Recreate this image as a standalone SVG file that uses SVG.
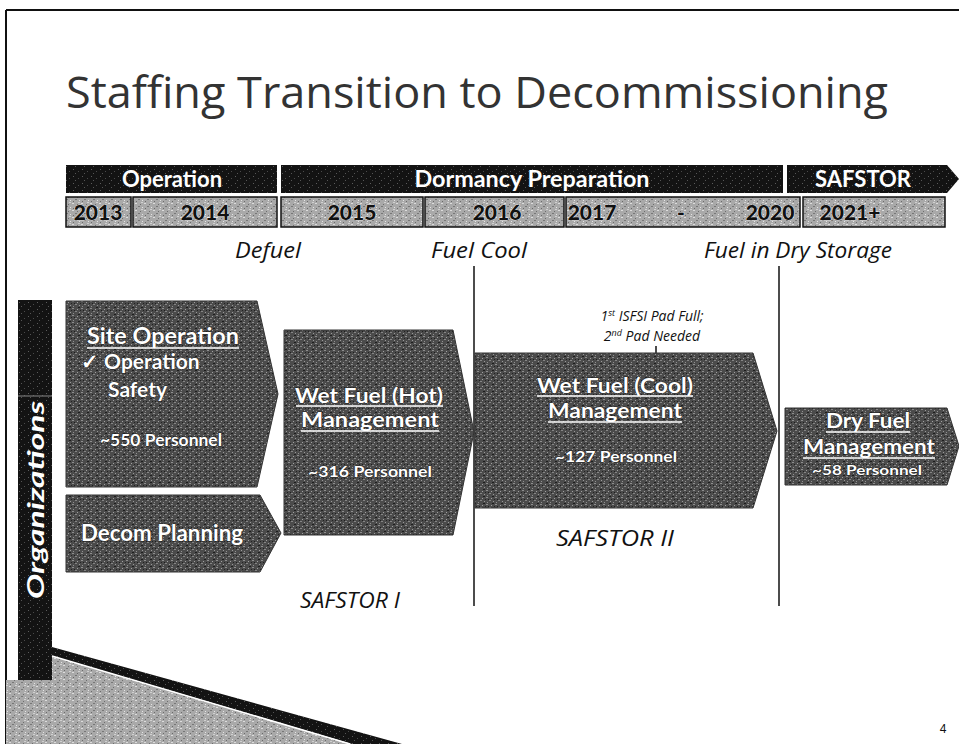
<svg xmlns="http://www.w3.org/2000/svg" width="959" height="744" viewBox="0 0 959 744">
<defs>
<pattern id="grain" width="9" height="7" patternUnits="userSpaceOnUse">
<rect width="9" height="7" fill="#4b4b4b"/>
<rect x="0" y="0" width="2" height="1" fill="#8e8e8e"/>
<rect x="5" y="1" width="1" height="1" fill="#a0a0a0"/>
<rect x="3" y="3" width="2" height="1" fill="#858585"/>
<rect x="7" y="4" width="1" height="1" fill="#999"/>
<rect x="1" y="5" width="1" height="1" fill="#909090"/>
<rect x="6" y="6" width="2" height="1" fill="#1e1e1e"/>
<rect x="2" y="2" width="1" height="1" fill="#1e1e1e"/>
<rect x="8" y="2" width="1" height="1" fill="#222"/>
</pattern>
<pattern id="grainLight" width="9" height="7" patternUnits="userSpaceOnUse">
<rect width="9" height="7" fill="#a9a9a9"/>
<rect x="0" y="0" width="2" height="1" fill="#dcdcdc"/>
<rect x="5" y="1" width="1" height="1" fill="#6e6e6e"/>
<rect x="3" y="3" width="2" height="1" fill="#777"/>
<rect x="7" y="4" width="1" height="1" fill="#e4e4e4"/>
<rect x="1" y="5" width="1" height="1" fill="#6a6a6a"/>
<rect x="6" y="6" width="2" height="1" fill="#d0d0d0"/>
</pattern>
<pattern id="grainDark" width="9" height="7" patternUnits="userSpaceOnUse">
<rect width="9" height="7" fill="#131313"/>
<rect x="1" y="1" width="1" height="1" fill="#5c5c5c"/>
<rect x="6" y="3" width="1" height="1" fill="#4a4a4a"/>
<rect x="3" y="5" width="1" height="1" fill="#555"/>
</pattern>
</defs>
<style>
.hdr{fill:url(#grainDark);}
.yr{fill:url(#grainLight);stroke:#111;stroke-width:1.5;}
.arr{fill:url(#grain);stroke:#333;stroke-width:1;}
.ht{font-family:Lato,"Open Sans",sans-serif;font-weight:bold;fill:#fff;font-size:22px;}
.yt{font-family:Lato,"Open Sans",sans-serif;font-weight:900;fill:#111;font-size:21px;stroke:#fff;stroke-width:0.7;paint-order:stroke;}
.bt{font-family:Lato,"Open Sans",sans-serif;font-weight:bold;fill:#fff;stroke:#222;stroke-width:1;paint-order:stroke;}
.it{font-family:"Open Sans",sans-serif;font-style:italic;fill:#111;}
.vl{stroke:#111;stroke-width:1.5;}
.ul{stroke:#fff;stroke-width:1.6;}
</style>
<!-- page frame -->
<line x1="6" y1="10" x2="959" y2="10" stroke="#111" stroke-width="2"/>
<line x1="6" y1="10" x2="6" y2="744" stroke="#111" stroke-width="2"/>
<text x="66" y="108" font-family="'Open Sans',sans-serif" font-size="44" fill="#333" textLength="822" lengthAdjust="spacingAndGlyphs">Staffing Transition to Decommissioning</text>

<!-- header bar -->
<g id="hdr-operation"><rect class="hdr" x="66" y="165" width="211" height="28"/><text class="ht" x="172" y="187" text-anchor="middle">Operation</text></g>
<g id="hdr-dormancy"><rect class="hdr" x="281" y="165" width="502" height="28"/><text class="ht" x="532" y="187" text-anchor="middle" textLength="235" lengthAdjust="spacingAndGlyphs">Dormancy Preparation</text></g>
<g id="hdr-safstor"><path class="hdr" d="M787 165 H947 L959 179 L947 193 H787 Z"/><text class="ht" x="863" y="187" text-anchor="middle">SAFSTOR</text></g>

<!-- years -->
<g id="y2013"><rect class="yr" x="66" y="197" width="65" height="30"/><text class="yt" x="98" y="220" text-anchor="middle">2013</text></g>
<g id="y2014"><rect class="yr" x="133" y="197" width="144" height="30"/><text class="yt" x="205" y="220" text-anchor="middle">2014</text></g>
<g id="y2015"><rect class="yr" x="281" y="197" width="142" height="30"/><text class="yt" x="352" y="220" text-anchor="middle">2015</text></g>
<g id="y2016"><rect class="yr" x="425" y="197" width="139" height="30"/><text class="yt" x="497" y="220" text-anchor="middle">2016</text></g>
<g id="y2017"><rect class="yr" x="566" y="197" width="234" height="30"/><text class="yt" x="592" y="220" text-anchor="middle">2017</text><text class="yt" x="681" y="220" text-anchor="middle">-</text><text class="yt" x="770" y="220" text-anchor="middle">2020</text></g>
<g id="y2021"><rect class="yr" x="803" y="197" width="142" height="30"/><text class="yt" x="850" y="220" text-anchor="middle">2021+</text></g>

<!-- milestone labels -->
<text class="it" x="268" y="258" font-size="22" text-anchor="middle" textLength="66" lengthAdjust="spacingAndGlyphs">Defuel</text>
<text class="it" x="479" y="258" font-size="22" text-anchor="middle" textLength="96" lengthAdjust="spacingAndGlyphs">Fuel Cool</text>
<text class="it" x="798" y="258" font-size="22" text-anchor="middle" textLength="188" lengthAdjust="spacingAndGlyphs">Fuel in Dry Storage</text>

<g id="connectors">
<line class="vl" x1="474" y1="266" x2="474" y2="606"/>
<line class="vl" x1="779" y1="266" x2="779" y2="606"/>
<line class="vl" x1="656" y1="346" x2="656" y2="355" stroke-width="1"/>
</g>

<!-- organizations bar -->
<g id="organizations">
<rect x="18" y="300" width="34" height="380" fill="url(#grainDark)"/>
<line x1="18" y1="396" x2="52" y2="396" stroke="#888" stroke-width="1"/>
<text class="ht" font-style="italic" font-weight="900" font-size="26" transform="translate(44,500) rotate(-90)" text-anchor="middle" textLength="198" lengthAdjust="spacingAndGlyphs">Organizations</text>
</g>

<!-- site operation -->
<g id="site-operation">
<path class="arr" d="M66 301 H257 L278 394 L257 487 H66 Z"/>
<text class="bt" x="163" y="344" font-size="23" text-anchor="middle" textLength="152" lengthAdjust="spacingAndGlyphs">Site Operation</text>
<line class="ul" x1="87" y1="348" x2="239" y2="348"/>
<text class="bt" x="81" y="369" font-size="21">✓ Operation</text>
<text class="bt" x="108" y="397" font-size="21">Safety</text>
<text class="bt" x="161" y="446" font-size="17" text-anchor="middle" textLength="122" lengthAdjust="spacingAndGlyphs">~550 Personnel</text>
</g>

<!-- decom planning -->
<g id="decom-planning">
<path class="arr" d="M66 495 H260 L281 533 L260 572 H66 Z"/>
<text class="bt" x="162" y="541" font-size="23" text-anchor="middle" textLength="162" lengthAdjust="spacingAndGlyphs">Decom Planning</text>
</g>

<!-- wet fuel hot -->
<g id="wet-fuel-hot">
<path class="arr" d="M284 330 H453 L474 432 L453 535 H284 Z"/>
<text class="bt" x="369" y="403" font-size="21" text-anchor="middle" textLength="148" lengthAdjust="spacingAndGlyphs">Wet Fuel (Hot)</text>
<line class="ul" x1="296" y1="406" x2="443" y2="406"/>
<text class="bt" x="370" y="427" font-size="21" text-anchor="middle" textLength="138" lengthAdjust="spacingAndGlyphs">Management</text>
<line class="ul" x1="301" y1="431" x2="439" y2="431"/>
<text class="bt" x="370" y="477" font-size="16" text-anchor="middle" textLength="124" lengthAdjust="spacingAndGlyphs">~316 Personnel</text>
</g>
<text class="it" x="350" y="608" font-size="22" text-anchor="middle" textLength="100" lengthAdjust="spacingAndGlyphs">SAFSTOR I</text>

<!-- wet fuel cool -->
<g id="wet-fuel-cool">
<text class="it" x="652" y="321" font-size="14" text-anchor="middle">1<tspan font-size="9" dy="-5">st</tspan><tspan dy="5"> ISFSI Pad Full;</tspan></text>
<text class="it" x="652" y="341" font-size="14" text-anchor="middle">2<tspan font-size="9" dy="-5">nd</tspan><tspan dy="5"> Pad Needed</tspan></text>
<path class="arr" d="M475 353 H753 L777 431 L753 508 H475 Z"/>
<text class="bt" x="615" y="393" font-size="21" text-anchor="middle" textLength="156" lengthAdjust="spacingAndGlyphs">Wet Fuel (Cool)</text>
<line class="ul" x1="537" y1="396" x2="693" y2="396"/>
<text class="bt" x="615" y="418" font-size="21" text-anchor="middle" textLength="134" lengthAdjust="spacingAndGlyphs">Management</text>
<line class="ul" x1="548" y1="422" x2="682" y2="422"/>
<text class="bt" x="616" y="462" font-size="16" text-anchor="middle" textLength="122" lengthAdjust="spacingAndGlyphs">~127 Personnel</text>
</g>
<text class="it" x="615" y="546" font-size="22" text-anchor="middle" textLength="118" lengthAdjust="spacingAndGlyphs">SAFSTOR II</text>

<!-- dry fuel -->
<g id="dry-fuel">
<path class="arr" d="M785 408 H947 L959 446 L947 485 H785 Z"/>
<text class="bt" x="868" y="428" font-size="20" text-anchor="middle" textLength="84" lengthAdjust="spacingAndGlyphs">Dry Fuel</text>
<line class="ul" x1="826" y1="432" x2="910" y2="432"/>
<text class="bt" x="869" y="454" font-size="20" text-anchor="middle" textLength="132" lengthAdjust="spacingAndGlyphs">Management</text>
<line class="ul" x1="803" y1="458" x2="935" y2="458"/>
<text class="bt" x="867" y="475" font-size="14" text-anchor="middle" textLength="110" lengthAdjust="spacingAndGlyphs">~58 Personnel</text>
</g>

<!-- bottom decoration -->
<path d="M6 680 L52 680 L52 656 L350 744 L6 744 Z" fill="url(#grainLight)"/>
<path d="M30 643 L52 647 L402 744 L352 744 L52 656 L30 652 Z" fill="url(#grainDark)"/>
<line x1="52" y1="656" x2="350" y2="744" stroke="#fff" stroke-width="1.5"/>
<text x="943" y="733" font-family="'Liberation Sans',sans-serif" font-size="12" fill="#111" text-anchor="middle">4</text>
</svg>
